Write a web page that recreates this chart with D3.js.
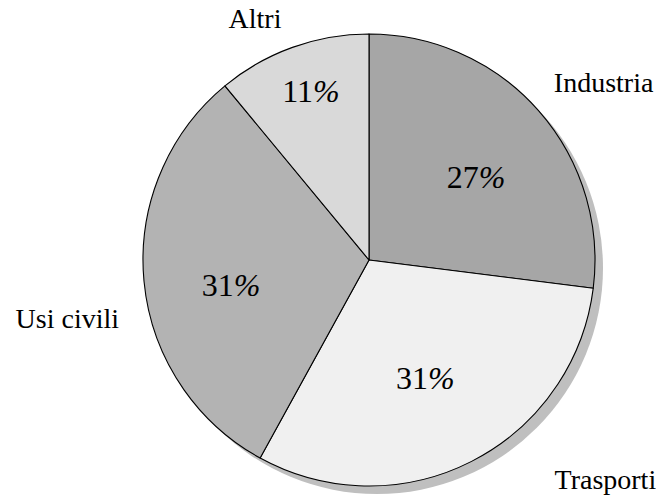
<!DOCTYPE html>
<html>
<head>
<meta charset="utf-8">
<script src="https://cdn.jsdelivr.net/npm/d3@7"></script>
<style>
  body { margin: 0; background: #fff; }
</style>
</head>
<body>
<div id="chart"></div>
<script>
// categories and shares (%)
const categories = ["Industria", "Trasporti", "Usi civili", "Altri"];
const shares = [27, 31, 31, 11];
const sliceColors = ["#a6a6a6", "#f0f0f0", "#b3b3b3", "#d9d9d9"];

const width = 656;
const height = 498;
const cx = 369;
const cy = 260;
const radius = 226;
const serif = "'Liberation Serif', 'DejaVu Serif', 'Times New Roman', serif";

// label layout: angle in degrees (clockwise from top), distance as share of radius
const pctPlacement = [
  { angle: 52.2, dist: 0.6 },
  { angle: 154.6, dist: 0.58 },
  { angle: 259.7, dist: 0.62 },
  { angle: 341, dist: 0.79 },
];
const namePlacement = [
  { angle: 53, dist: 1.3 },
  { angle: 133, dist: 1.43 },
  { angle: 259, dist: 1.36 },
  { angle: 334.7, dist: 1.18 },
];

const data = categories.map((name, i) => ({ name, value: shares[i], color: sliceColors[i] }));

function polar(p) {
  const a = (p.angle * Math.PI) / 180;
  const r = radius * p.dist;
  return [Math.sin(a) * r, -Math.cos(a) * r];
}

const svg = d3
  .select("#chart")
  .append("svg")
  .attr("width", width)
  .attr("height", height)
  .attr("viewBox", [0, 0, width, height]);

const g = svg.append("g").attr("transform", `translate(${cx}, ${cy})`);

const pie = d3
  .pie()
  .sort(null)
  .value((d) => d.value);

const arcs = pie(data);

const arc = d3.arc().innerRadius(0).outerRadius(radius);

// drop shadow behind the pie
g.append("circle")
  .attr("cx", 8)
  .attr("cy", 8)
  .attr("r", radius)
  .attr("fill", "#bfbfbf");

g.selectAll("path.slice")
  .data(arcs)
  .join("path")
  .attr("class", "slice")
  .attr("d", arc)
  .attr("fill", (d) => d.data.color)
  .attr("stroke", "#000")
  .attr("stroke-width", 1.1)
  .attr("stroke-linejoin", "round");

// percentages inside the slices
const pctLabels = g
  .selectAll("text.pct")
  .data(arcs)
  .join("text")
  .attr("class", "pct")
  .attr("text-anchor", "middle")
  .attr("font-family", serif)
  .attr("font-size", 32)
  .attr("fill", "#000")
  .attr("transform", (d, i) => {
    const [x, y] = polar(pctPlacement[i]);
    return `translate(${x}, ${y + 11})`;
  });

pctLabels.append("tspan").text((d) => d.data.value);
pctLabels.append("tspan").attr("font-style", "italic").text("%");

// category names outside the pie
g.selectAll("text.name")
  .data(arcs)
  .join("text")
  .attr("class", "name")
  .attr("text-anchor", "middle")
  .attr("font-family", serif)
  .attr("font-size", 28)
  .attr("fill", "#000")
  .attr("transform", (d, i) => {
    const [x, y] = polar(namePlacement[i]);
    return `translate(${x}, ${y + 9})`;
  })
  .text((d) => d.data.name);
</script>
</body>
</html>
